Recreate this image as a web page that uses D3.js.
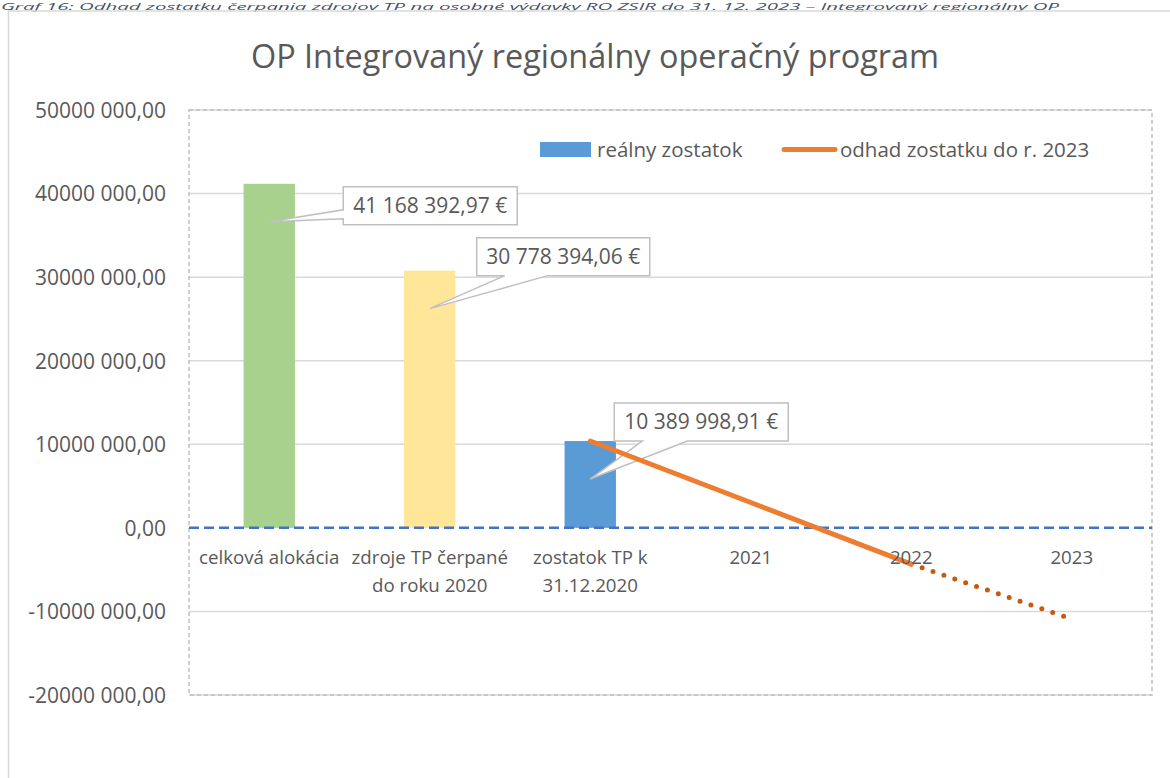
<!DOCTYPE html>
<html>
<head>
<meta charset="utf-8">
<script src="https://cdn.jsdelivr.net/npm/d3@7"></script>
<style>
  html, body { margin: 0; padding: 0; background: #ffffff; overflow: hidden; }
  svg { display: block; }
</style>
</head>
<body>
<script>
// ---------- DATA ----------
const caption = "Graf 16: Odhad zostatku čerpania zdrojov TP na osobné výdavky RO ZSIR do 31. 12. 2023 – Integrovaný regionálny OP";
const title = "OP Integrovaný regionálny operačný program";
const categories = ["celková alokácia", "zdroje TP čerpané\ndo roku 2020", "zostatok TP k\n31.12.2020", "2021", "2022", "2023"];
const barValues = [41168392.97, 30778394.06, 10389998.91];
const barColors = ["#a9d18e", "#ffe699", "#5b9bd5"];
const barLabels = ["41 168 392,97 €", "30 778 394,06 €", "10 389 998,91 €"];
const estimateCats = [2, 3, 4];
const estimateValues = [10389998.91, 3030000, -4330000];
const extensionCats = [4, 5];
const extensionValues = [-4330000, -10900000];
const yTicks = [-20000000, -10000000, 0, 10000000, 20000000, 30000000, 40000000, 50000000];
const legendLabels = ["reálny zostatok", "odhad zostatku do r. 2023"];

// ---------- LAYOUT ----------
const W = 1170, H = 778;
const plot = { left: 189, right: 1152, top: 110, bottom: 695 };
const textColor = "#595959";
const font = "'Open Sans', 'Noto Sans', sans-serif";

const svg = d3.select("body").append("svg").attr("width", W).attr("height", H);

// caption
svg.append("text").attr("x", 1).attr("y", 9.5)
  .attr("font-family", font).attr("font-style", "italic").attr("font-size", 9)
  .attr("textLength", 1058).attr("lengthAdjust", "spacingAndGlyphs")
  .attr("fill", "#44546a").text(caption);

// outer chart border
svg.append("rect").attr("x", 8.5).attr("y", 11).attr("width", 1300).attr("height", 900)
  .attr("fill", "none").attr("stroke", "#d9d9d9").attr("stroke-width", 1.5);

// title
svg.append("text").attr("x", 595).attr("y", 68).attr("text-anchor", "middle")
  .attr("font-family", font).attr("font-size", 32.4).attr("fill", textColor).text(title);

const y = d3.scaleLinear().domain([-20000000, 50000000]).range([plot.bottom, plot.top]);
const x = d3.scaleBand().domain(d3.range(categories.length)).range([plot.left, plot.right]).padding(0);
const cx = i => x(i) + x.bandwidth() / 2;
const barW = x.bandwidth() * 0.32;

// gridlines
svg.append("g").selectAll("line").data(yTicks.filter(t => t !== 0)).join("line")
  .attr("x1", plot.left).attr("x2", plot.right)
  .attr("y1", d => y(d)).attr("y2", d => y(d))
  .attr("stroke", "#d9d9d9").attr("stroke-width", 1.5);

// plot area border (dashed)
svg.append("rect").attr("x", plot.left).attr("y", plot.top)
  .attr("width", plot.right - plot.left).attr("height", plot.bottom - plot.top)
  .attr("fill", "none").attr("stroke", "#bfbfbf").attr("stroke-width", 1.5)
  .attr("stroke-dasharray", "4,3");

// y axis labels
const fmt = v => {
  if (v === 0) return "0,00";
  const s = v < 0 ? "-" : "";
  const a = Math.abs(v);
  return s + Math.floor(a / 1000) + " " + String(a % 1000).padStart(3, "0") + ",00";
};
const yAxis = d3.axisLeft(y).tickValues(yTicks).tickFormat(fmt).tickSize(0).tickPadding(0);
const ya = svg.append("g").attr("transform", "translate(166,0)").call(yAxis);
ya.select(".domain").remove();
ya.selectAll("text").attr("font-family", font).attr("font-size", 21).attr("fill", textColor).attr("dy", "0.35em");

// bars
svg.append("g").selectAll("rect").data(barValues).join("rect")
  .attr("x", (d, i) => cx(i) - barW / 2).attr("width", barW)
  .attr("y", d => y(d)).attr("height", d => y(0) - y(d))
  .attr("fill", (d, i) => barColors[i]);

// zero line
svg.append("line").attr("x1", plot.left).attr("x2", plot.right)
  .attr("y1", y(0)).attr("y2", y(0))
  .attr("stroke", "#4472c4").attr("stroke-width", 2.5).attr("stroke-dasharray", "10,5");

// callouts
const callouts = [
  { dx: 74, dy: 3, w: 174, h: 38, side: "left", b1: 23, b2: 32 },
  { dx: 47, dy: -33, w: 173, h: 38, side: "bottom", b1: 28, b2: 71 },
  { dx: 24, dy: -38, w: 174, h: 38, side: "bottom", b1: 28, b2: 73 }
];
const cg = svg.append("g");
barValues.forEach((v, i) => {
  const c = callouts[i];
  const bx = cx(i), by = y(v);
  const x0 = bx + c.dx, y0 = by + c.dy, x1 = x0 + c.w, y1 = y0 + c.h;
  const tx = bx, ty = by + 38;
  let p;
  if (c.side === "left") {
    p = `M${x0},${y0}H${x1}V${y1}H${x0}V${y0 + c.b2}L${tx},${ty}L${x0},${y0 + c.b1}Z`;
  } else {
    p = `M${x0},${y0}H${x1}V${y1}H${x0 + c.b2}L${tx},${ty}L${x0 + c.b1},${y1}H${x0}Z`;
  }
  cg.append("path").attr("d", p).attr("fill", "#ffffff").attr("stroke", "#bfbfbf").attr("stroke-width", 1.5);
  cg.append("text").attr("x", (x0 + x1) / 2).attr("y", (y0 + y1) / 2).attr("dy", "0.35em")
    .attr("text-anchor", "middle").attr("font-family", font).attr("font-size", 21)
    .attr("fill", textColor).text(barLabels[i]);
});

// estimate line
const line = d3.line().x(d => cx(d[0])).y(d => y(d[1]));
svg.append("path").datum(extensionCats.map((c, i) => [c, extensionValues[i]]))
  .attr("d", line).attr("fill", "none").attr("stroke", "#c55a11")
  .attr("stroke-width", 5).attr("stroke-linecap", "round").attr("stroke-dasharray", "0,11.5");
svg.append("path").datum(estimateCats.map((c, i) => [c, estimateValues[i]]))
  .attr("d", line).attr("fill", "none").attr("stroke", "#ed7d31")
  .attr("stroke-width", 5).attr("stroke-linecap", "round");

// x labels
const xg = svg.append("g");
categories.forEach((c, i) => {
  const lines = c.split("\n");
  const t = xg.append("text").attr("x", cx(i)).attr("y", 564).attr("text-anchor", "middle")
    .attr("font-family", font).attr("font-size", 18.7).attr("fill", textColor);
  lines.forEach((l, k) => t.append("tspan").attr("x", cx(i)).attr("dy", k === 0 ? 0 : 28).text(l));
});

// legend
const lg = svg.append("g");
lg.append("rect").attr("x", 540).attr("y", 142).attr("width", 51).attr("height", 15).attr("fill", barColors[2]);
lg.append("text").attr("x", 597).attr("y", 157).attr("font-family", font).attr("font-size", 20.5)
  .attr("fill", textColor).text(legendLabels[0]);
lg.append("line").attr("x1", 784).attr("x2", 835).attr("y1", 149.5).attr("y2", 149.5)
  .attr("stroke", "#ed7d31").attr("stroke-width", 5).attr("stroke-linecap", "round");
lg.append("text").attr("x", 840).attr("y", 157).attr("font-family", font).attr("font-size", 20.5)
  .attr("fill", textColor).text(legendLabels[1]);
</script>
</body>
</html>
